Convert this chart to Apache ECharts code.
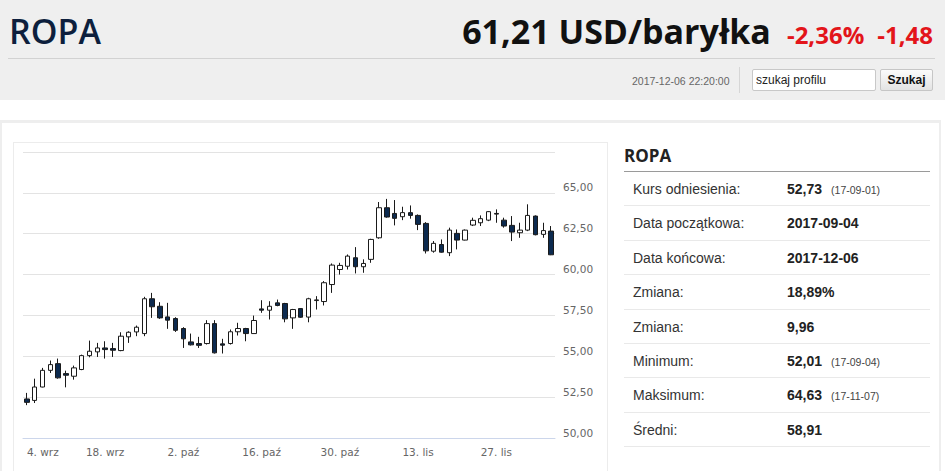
<!DOCTYPE html>
<html><head><meta charset="utf-8">
<script src="https://cdn.jsdelivr.net/npm/echarts@6/dist/echarts.min.js"></script>
<style>
html,body{margin:0;padding:0;width:945px;height:471px;overflow:hidden;background:#fff;font-family:"Liberation Sans",Arial,sans-serif;}
.abs{position:absolute;}
#head{left:0;top:0;width:945px;height:100px;background:#efefef;}
#title{left:9px;top:6px;font:600 34px/50px "Open Sans",sans-serif;color:#0d1f3d;white-space:nowrap;}
#price{right:12px;top:6px;display:flex;align-items:baseline;font-family:"Open Sans",sans-serif;white-space:nowrap;line-height:50px;}
#price .big{font-weight:700;font-size:34px;color:#111;}
#price .red{font-weight:700;font-size:24px;color:#e3151a;}
#sep{left:8px;top:58px;width:927px;height:1px;background:#d2d2d2;}
#stamp{left:632px;top:74px;font-size:10.5px;line-height:14px;color:#666;white-space:nowrap;}
#vdiv{left:739px;top:67px;width:1px;height:26px;background:#d6d6d6;}
#search{left:752px;top:69px;width:124px;height:22px;box-sizing:border-box;border:1px solid #c8c8c8;background:#fff;font-size:12px;line-height:20px;padding-left:3px;color:#222;border-radius:2px;}
#btn{left:880px;top:69px;width:53px;height:22px;box-sizing:border-box;border:1px solid #c6c6c6;background:linear-gradient(#fbfbfb,#e3e3e3);font-weight:700;font-size:12px;line-height:20px;text-align:center;color:#111;border-radius:2px;}
#content{left:0;top:120px;width:941px;height:380px;box-sizing:border-box;border-top:3px solid #eeeeee;border-left:2px solid #eeeeee;border-right:2px solid #eeeeee;}
#chartbox{left:13px;top:142px;width:595px;height:340px;box-sizing:border-box;border:1px solid #ececec;}
#chart{left:14px;top:143px;width:594px;height:328px;}
#thead{left:624px;top:146px;font:700 17px/20px "Open Sans",sans-serif;color:#222;}
#tline{left:624px;top:171px;width:306px;height:1px;background:#9a9a9a;}
.row{position:absolute;left:624px;width:306px;height:34.4px;box-sizing:border-box;border-bottom:1px solid #e9e9e9;font-size:14px;line-height:34px;color:#333;}
.row .lab{position:absolute;left:9px;top:0;white-space:nowrap;}
.row .val{position:absolute;left:163px;top:0;white-space:nowrap;font-weight:700;color:#222;}
.row .sm{font-weight:400;font-size:10.5px;color:#444;margin-left:9px;}
</style></head>
<body>
<div id="head" class="abs"></div>
<div id="title" class="abs">ROPA</div>
<div id="price" class="abs"><span class="big">61,21 USD/baryłka</span><span class="red" style="margin-left:16px">-2,36%</span><span class="red" style="margin-left:13px">-1,48</span></div>
<div id="sep" class="abs"></div>
<div id="stamp" class="abs">2017-12-06 22:20:00</div>
<div id="vdiv" class="abs"></div>
<div id="search" class="abs">szukaj profilu</div>
<div id="btn" class="abs">Szukaj</div>
<div id="content" class="abs"></div>
<div id="chartbox" class="abs"></div>
<div id="chart" class="abs"></div>
<div id="thead" class="abs">ROPA</div>
<div id="tline" class="abs"></div>
<div id="rows"></div>
<script>
// ---- chart data ----
const dates = [
 '2017-09-04','2017-09-05','2017-09-06','2017-09-07','2017-09-08',
 '2017-09-11','2017-09-12','2017-09-13','2017-09-14','2017-09-15',
 '2017-09-18','2017-09-19','2017-09-20','2017-09-21','2017-09-22',
 '2017-09-25','2017-09-26','2017-09-27','2017-09-28','2017-09-29',
 '2017-10-02','2017-10-03','2017-10-04','2017-10-05','2017-10-06',
 '2017-10-09','2017-10-10','2017-10-11','2017-10-12','2017-10-13',
 '2017-10-16','2017-10-17','2017-10-18','2017-10-19','2017-10-20',
 '2017-10-23','2017-10-24','2017-10-25','2017-10-26','2017-10-27',
 '2017-10-30','2017-10-31','2017-11-01','2017-11-02','2017-11-03',
 '2017-11-06','2017-11-07','2017-11-08','2017-11-09','2017-11-10',
 '2017-11-13','2017-11-14','2017-11-15','2017-11-16','2017-11-17',
 '2017-11-20','2017-11-21','2017-11-22','2017-11-23','2017-11-24',
 '2017-11-27','2017-11-28','2017-11-29','2017-11-30','2017-12-01',
 '2017-12-04','2017-12-05','2017-12-06'
];
const openPrices = [
 52.39,52.30,53.12,54.14,54.55, 53.94,53.78,54.19,55.04,55.27,
 55.51,55.47,55.35,56.19,56.49, 56.39,58.52,58.06,57.41,57.31,
 56.70,55.88,55.78,55.78,57.00, 55.76,55.78,56.50,56.70,56.39,
 57.90,57.82,58.27,58.23,57.35, 57.92,57.40,58.41,58.35,59.39,
 60.31,60.51,61.03,60.48,60.93, 62.25,64.09,63.74,63.54,63.79,
 63.62,63.13,61.43,61.84,61.34, 62.52,62.11,63.03,63.17,63.33,
 63.74,63.33,63.01,62.56,62.72, 63.58,62.46,62.66
];
const closePrices = [
 52.18,53.12,54.14,54.49,53.68, 53.84,54.29,55.04,55.31,55.51,
 55.41,55.37,56.23,56.47,56.78, 58.52,58.03,57.35,57.21,56.59,
 56.07,55.70,55.67,57.00,55.21, 55.68,56.50,56.70,56.39,57.19,
 57.82,58.06,58.11,57.29,57.86, 57.39,58.52,58.45,59.50,60.58,
 60.56,61.13,60.48,60.68,62.15, 64.09,63.52,63.44,63.79,63.62,
 63.07,61.45,61.91,61.37,62.72, 62.11,62.72,63.32,63.42,63.85,
 63.70,62.97,62.60,62.72,63.62, 62.44,62.69,61.21
];
const lowPrices = [
 52.01,52.14,53.10,53.98,53.63, 53.10,53.57,54.15,54.94,54.96,
 54.86,54.96,55.31,55.82,56.23, 56.23,57.35,57.29,56.68,56.49,
 55.51,55.66,55.51,55.72,55.17, 55.17,55.72,56.27,55.92,56.39,
 57.66,57.25,58.06,57.08,56.68, 57.35,57.08,57.86,58.11,58.88,
 60.00,60.31,60.07,60.11,60.72, 62.19,63.48,63.01,63.33,63.42,
 62.72,61.29,61.34,61.34,61.13, 61.54,62.09,62.97,62.97,63.27,
 63.17,62.87,62.05,62.25,62.66, 62.40,62.25,61.19
];
const highPrices = [
 52.76,53.63,54.29,54.74,54.86, 54.12,54.43,55.10,55.96,55.82,
 55.92,55.82,56.47,56.53,56.88, 58.64,58.88,58.31,58.27,57.39,
 56.78,56.39,56.19,57.21,57.21, 56.07,56.64,57.05,56.74,57.49,
 58.43,58.37,58.47,58.27,57.90, 57.95,58.58,58.68,59.60,60.68,
 60.72,61.23,61.68,60.93,62.19, 64.44,64.63,64.56,64.15,64.23,
 63.68,63.21,62.05,62.15,62.87, 62.76,62.76,63.48,63.62,63.88,
 63.99,63.48,63.58,63.17,64.30, 63.62,63.17,62.97
];
const tickLabels = ['4. wrz','18. wrz','2. paź','16. paź','30. paź','13. lis','27. lis'];
const yMin = 50, yMax = 67.5, yStep = 2.5;

// ---- side table data ----
const tableLabels = ['Kurs odniesienia:','Data początkowa:','Data końcowa:','Zmiana:','Zmiana:','Minimum:','Maksimum:','Średni:'];
const tableValues = ['52,73','2017-09-04','2017-12-06','18,89%','9,96','52,01','64,63','58,91'];
const tableNotes  = ['(17-09-01)','','','','','(17-09-04)','(17-11-07)',''];

const rows = document.getElementById('rows');
tableLabels.forEach((lab, i) => {
  const r = document.createElement('div');
  r.className = 'row';
  r.style.top = (172 + i * 34.4) + 'px';
  const a = document.createElement('span'); a.className = 'lab'; a.textContent = lab;
  const b = document.createElement('span'); b.className = 'val'; b.textContent = tableValues[i];
  if (tableNotes[i]) { const s = document.createElement('span'); s.className = 'sm'; s.textContent = tableNotes[i]; b.appendChild(s); }
  r.appendChild(a); r.appendChild(b); rows.appendChild(r);
});

const ohlc = dates.map((d, i) => [openPrices[i], closePrices[i], lowPrices[i], highPrices[i]]);
const chart = echarts.init(document.getElementById('chart'), null, {renderer: 'svg'});
chart.setOption({
  animation: false,
  grid: {left: 9, right: 53, top: 9, bottom: 33},
  xAxis: {
    type: 'category', data: dates, boundaryGap: true,
    axisLine: {lineStyle: {color: '#ccd6eb', width: 1}},
    axisTick: {interval: 9, alignWithLabel: true, length: 8, lineStyle: {color: '#ccd6eb'}},
    axisLabel: {
      interval: 9, margin: 8, color: '#666', fontFamily: 'DejaVu Sans', fontSize: 10.5,
      alignMinLabel: 'left',
      formatter: (v, i) => tickLabels[Math.round(i / 10)] || ''
    },
    splitLine: {show: false}
  },
  yAxis: {
    type: 'value', position: 'right', min: yMin, max: yMax, interval: yStep, scale: true,
    axisLine: {show: false}, axisTick: {show: false},
    splitLine: {lineStyle: {color: '#e3e3e3', width: 1}},
    axisLabel: {
      margin: 8, color: '#666', fontFamily: 'DejaVu Sans', fontSize: 10.5,
      showMaxLabel: false, verticalAlign: 'bottom', lineHeight: 11,
      formatter: v => v.toFixed(2).replace('.', ',')
    }
  },
  series: [{
    type: 'candlestick', data: ohlc, barWidth: 5,
    itemStyle: {color: '#ffffff', color0: '#0c2a4f', borderColor: '#1a1a1a', borderColor0: '#1a1a1a', borderWidth: 1}
  }]
});
</script>
</body></html>
